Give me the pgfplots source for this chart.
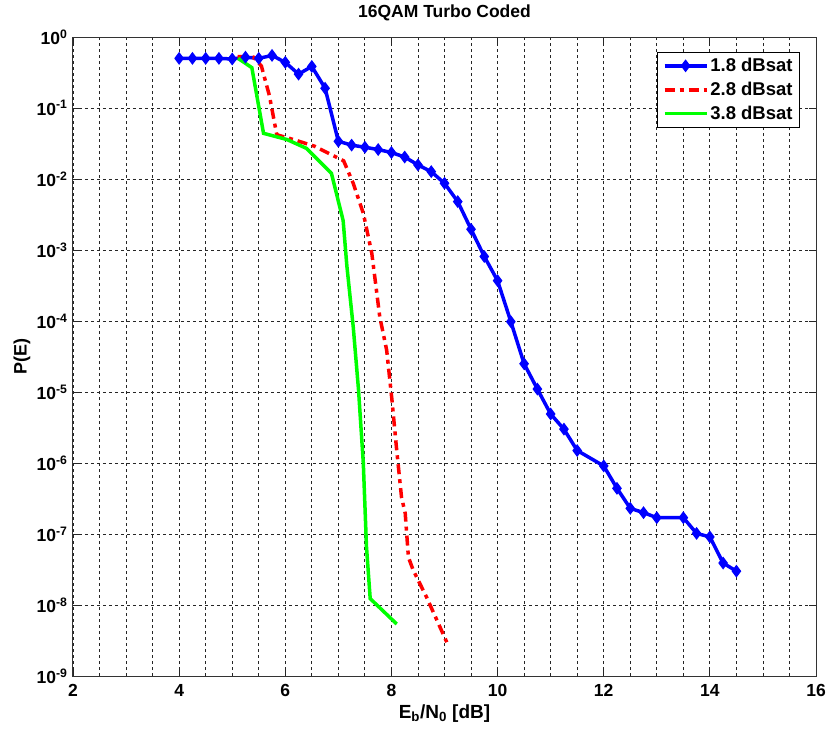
\documentclass[border=0pt]{standalone}
\usepackage{pgfplots}
\pgfplotsset{compat=1.18}
\usepackage{fontspec}
\setmainfont{Liberation Sans}

\definecolor{mblue}{RGB}{0,0,255}
\definecolor{mred}{RGB}{255,0,0}
\definecolor{mgreen}{RGB}{0,255,0}

\begin{document}
\begin{tikzpicture}
\useasboundingbox (-73pt,-58pt) rectangle (756pt,676pt);
\begin{semilogyaxis}[
  at={(0pt,0pt)}, anchor=south west,
  scale only axis,
  width=743pt, height=639pt,
  xmin=2, xmax=16,
  ymin=1e-9, ymax=1,
  xtick={2,4,6,8,10,12,14,16},
  xticklabels={2,4,6,8,10,12,14,16},
  minor xtick={2.5,3,3.5,4.5,5,5.5,6.5,7,7.5,8.5,9,9.5,10.5,11,11.5,12.5,13,13.5,14.5,15,15.5},
  ytick={1e-9,1e-8,1e-7,1e-6,1e-5,1e-4,1e-3,1e-2,1e-1,1},
  yticklabels={10\textsuperscript{-9},10\textsuperscript{-8},10\textsuperscript{-7},10\textsuperscript{-6},10\textsuperscript{-5},10\textsuperscript{-4},10\textsuperscript{-3},10\textsuperscript{-2},10\textsuperscript{-1},10\textsuperscript{0}},
  yminorticks=false,
  tick align=inside,
  major tick length=7pt,
  minor tick length=0pt,
  tick style={black!85, line width=0.8pt},
  xmajorgrids, xminorgrids, ymajorgrids,
  major grid style={black!85, line width=0.8pt, dash pattern=on 3pt off 3pt},
  minor grid style={black!85, line width=0.8pt, dash pattern=on 3pt off 3pt},
  axis line style={black!80, line width=1pt},
  tick label style={font=\bfseries\fontsize{17.5}{20}\selectfont},
  xticklabel style={anchor=base, yshift=-20pt},
  yticklabel style={anchor=east, xshift=-2pt},
  title={16QAM Turbo Coded},
  title style={font=\bfseries\fontsize{17.5}{20}\selectfont, at={(axis description cs:0.5,1)}, anchor=base, yshift=14pt},
  xlabel={E\textsubscript{b}/N\textsubscript{0} [dB]},
  xlabel style={font=\bfseries\fontsize{19}{22}\selectfont, at={(axis description cs:0.5,0)}, anchor=base, yshift=-42pt},
  ylabel={P(E)},
  ylabel style={font=\bfseries\fontsize{18}{20}\selectfont, at={([xshift=-51pt]axis description cs:0,0.5)}, anchor=center},
  legend style={at={(axis description cs:1,1)}, anchor=north east, xshift=-16pt, yshift=-15pt,
    draw=black, line width=0.8pt, fill=white, font=\bfseries\fontsize{18.5}{21}\selectfont,
    row sep=5pt, inner xsep=5pt, inner ysep=4pt},
  legend cell align=left,
  legend image code/.code={\draw[mark repeat=2,mark phase=2,#1] plot coordinates {(0pt,0pt) (21pt,0pt) (42pt,0pt)};},
]
% 1.8 dBsat back-off
\addplot[mblue, line width=3.5pt, mark=diamond*, mark size=5.5pt, mark options={solid, line width=1.2pt}] coordinates {
(4,0.5) (4.25,0.5) (4.5,0.5) (4.75,0.5) (5,0.49) (5.25,0.52) (5.5,0.5) (5.75,0.55)
(6,0.44) (6.25,0.30) (6.5,0.385) (6.75,0.19) (7,0.034) (7.25,0.030) (7.5,0.028)
(7.75,0.026) (8,0.0236) (8.25,0.0204) (8.5,0.0158) (8.75,0.0127) (9,0.0087)
(9.25,0.0048) (9.5,0.00196) (9.75,8.1e-4) (10,3.7e-4) (10.25,9.8e-5) (10.5,2.5e-5)
(10.75,1.1e-5) (11,4.9e-6) (11.25,3.0e-6) (11.5,1.5e-6) (12,9.1e-7) (12.25,4.4e-7)
(12.5,2.3e-7) (12.75,2.0e-7) (13,1.7e-7) (13.5,1.7e-7) (13.75,1.02e-7) (14,9.1e-8)
(14.25,3.9e-8) (14.5,3.0e-8)
};
\addlegendentry{1.8 dBsat}
% 2.8 dBsat back-off
\addplot[mred, line width=3.5pt, dash pattern=on 10pt off 5pt on 4pt off 5pt] coordinates {
(5.1,0.53) (5.4,0.52) (5.55,0.39) (5.7,0.15) (5.84,0.042) (6.15,0.036) (6.55,0.029)
(7.1,0.018) (7.28,0.0087) (7.47,0.0033) (7.63,9e-4) (7.78,1.15e-4) (7.91,3.9e-5)
(8.01,7.7e-6) (8.1,1.5e-6) (8.19,3.3e-7) (8.26,1.95e-7) (8.32,4.7e-8) (8.41,3.1e-8)
(8.66,1.3e-8) (9.07,2.7e-9)
};
\addlegendentry{2.8 dBsat}
% 3.8 dBsat back-off
\addplot[mgreen, line width=3.5pt] coordinates {
(5.11,0.5) (5.37,0.37) (5.59,0.044) (6.03,0.036) (6.4,0.027) (6.87,0.012)
(7.09,2.6e-3) (7.16,6e-4) (7.28,8.3e-5) (7.38,1.07e-5) (7.47,1e-6) (7.53,6.6e-8)
(7.6,1.23e-8) (8.1,5.4e-9)
};
\addlegendentry{3.8 dBsat}
\end{semilogyaxis}
\end{tikzpicture}
\end{document}
